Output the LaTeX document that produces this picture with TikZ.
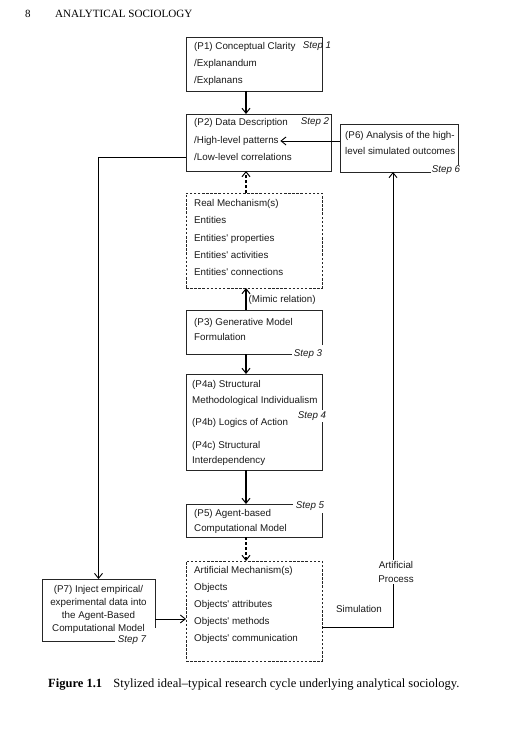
\documentclass[tikz,border=0pt]{standalone}
\usepackage{fontspec}
\setmainfont{Liberation Serif}
\newfontfamily\arial{Liberation Sans}
\usetikzlibrary{arrows.meta,calc}
\begin{document}
\begin{tikzpicture}[x=1pt,y=-1pt,
  nbox/.style={inner sep=0,outer sep=0,anchor=north west},
  box/.style={nbox,draw=black!85,line width=0.7pt},
  dbox/.style={box,dash pattern=on 2.5pt off 1.6pt},
  border/.style={draw=black!85,line width=0.7pt},
  txt/.style={anchor=base west,inner sep=0,font=\arial\fontsize{9.8}{11}\selectfont,text=black!90},
  ctxt/.style={txt,anchor=base},
  steplbl/.style={font=\arial\itshape\fontsize{9.8}{11}\selectfont,inner sep=1.5pt,text=black!90},
  wstep/.style={steplbl,fill=white},
  arr/.style={line width=1.1pt,-{Straight Barb[length=5pt,width=8pt,line width=1pt]}},
  darr/.style={arr,dash pattern=on 3pt off 2pt},
  conn/.style={line width=0.8pt,-{Straight Barb[length=5pt,width=8pt,line width=0.9pt]}}]
\useasboundingbox (0,0) rectangle (510,746);

% header
\node[anchor=base west,inner sep=0,font=\fontsize{11}{12}\selectfont] (pg) at (25,18) {8};
\node[anchor=base west,inner sep=0,font=\fontsize{11.1}{12}\selectfont] (hd) at (55,18) {ANALYTICAL SOCIOLOGY};

\coordinate (ax) at (246,0);
\coordinate (sx) at (393,0);

% boxes
\node[box,minimum width=136pt,minimum height=54pt] (p1) at (186,37) {};
\node[box,minimum width=145pt,minimum height=57pt] (p2) at (186,114) {};
\node[nbox,minimum width=118pt,minimum height=48pt] (p6) at (340,124) {};
\node[dbox,minimum width=136pt,minimum height=95pt] (real) at (186,193) {};
\node[nbox,minimum width=136pt,minimum height=44pt] (p3) at (186,310) {};
\node[box,minimum width=136pt,minimum height=96pt] (p4) at (186,374) {};
\node[nbox,minimum width=136pt,minimum height=33pt] (p5) at (186,504) {};
\node[dbox,minimum width=136pt,minimum height=100pt] (art) at (186,561) {};
\node[nbox,minimum width=113pt,minimum height=62pt] (p7) at (42,579) {};

% open borders
\draw[border] ($(p6.south west)+(91,0)$) -- (p6.south west) -- (p6.north west) -- (p6.north east) -- ($(p6.south east)+(0,-7)$);
\draw[border] ($(p3.south east)+(0,-9)$) -- (p3.north east) -- (p3.north west) -- (p3.south west) -- ($(p3.south west)+(106,0)$);
\draw[border] ($(p5.north west)+(107,0)$) -- (p5.north west) -- (p5.south west) -- (p5.south east) -- ($(p5.north east)+(0,9)$);
\draw[border] ($(p7.south west)+(73,0)$) -- (p7.south west) -- (p7.north west) -- (p7.north east) -- ($(p7.south east)+(0,-13)$);

% texts
\node[txt] (p1a) at (194,49.5) {(P1) Conceptual Clarity};
\node[txt] (p1b) at (194,66.5) {/Explanandum};
\node[txt] (p1c) at (194,83.5) {/Explanans};
\node[steplbl] (s1) at (317,46) {Step 1};

\node[txt] (p2a) at (194,125.5) {(P2) Data Description};
\node[txt,inner sep=1.5pt] (p2b) at (192.5,143.5) {/High-level patterns};
\node[txt] (p2c) at (194,160.5) {/Low-level correlations};
\node[steplbl] (s2) at (315,122) {Step 2};

\node[txt] (p6a) at (345,138.5) {(P6) Analysis of the high-};
\node[txt] (p6b) at (345,155) {level simulated outcomes};
\node[steplbl] (s6) at (446,170) {Step 6};

\node[txt] (r1) at (194,206.5) {Real Mechanism(s)};
\node[txt] (r2) at (194,223.5) {Entities};
\node[txt] (r3) at (194,241.5) {Entities' properties};
\node[txt] (r4) at (194,258.5) {Entities' activities};
\node[txt] (r5) at (194,275.5) {Entities' connections};

\node[txt] (p3a) at (194,325) {(P3) Generative Model};
\node[txt] (p3b) at (194,340) {Formulation};
\node[steplbl] (s3) at (308,354.5) {Step 3};

\node[txt] (p4a) at (192,387.5) {(P4a) Structural};
\node[txt] (p4b) at (192,403.5) {Methodological Individualism};
\node[txt] (p4c) at (192,425.5) {(P4b) Logics of Action};
\node[txt] (p4d) at (192,448.5) {(P4c) Structural};
\node[txt] (p4e) at (192,463.5) {Interdependency};
\node[wstep] (s4) at (312,416) {Step 4};

\node[txt] (p5a) at (194,516.5) {(P5) Agent-based};
\node[txt] (p5b) at (194,531.5) {Computational Model};
\node[steplbl] (s5) at (310,506) {Step 5};

\node[txt] (a1) at (194,573.5) {Artificial Mechanism(s)};
\node[txt] (a2) at (194,590.5) {Objects};
\node[txt] (a3) at (194,607.5) {Objects' attributes};
\node[txt] (a4) at (194,624.5) {Objects' methods};
\node[txt] (a5) at (194,641.5) {Objects' communication};

\node[ctxt] (p7a) at (98.5,592.5) {(P7) Inject empirical/};
\node[ctxt] (p7b) at (98.5,605.5) {experimental data into};
\node[ctxt] (p7c) at (98.5,618.5) {the Agent-Based};
\node[ctxt] (p7d) at (98.5,631.5) {Computational Model};
\node[steplbl] (s7) at (132,640) {Step 7};

% connectors
\draw[arr] (p1.south -| ax) -- (p2.north -| ax);
\draw[conn] (p6.west |- p2b.east) -- (p2b.east);
\draw[darr] (real.north -| ax) -- (p2.south -| ax);
\draw[arr] (p3.north -| ax) -- (real.south -| ax);
\node[txt] (mim) at (248.5,302.5) {(Mimic relation)};
\draw[arr] (p3.south -| ax) -- (p4.north -| ax);
\draw[arr] (p4.south -| ax) -- (p5.north -| ax);
\draw[darr] (p5.south -| ax) -- (art.north -| ax);
\draw[conn] (p2.west |- p2c) -| (p7.north);
\draw[conn] ($(p7.east |- a4)+(0,-3)$) -- ($(art.west |- a4)+(0,-3)$);
\draw[conn] ($(art.east |- a4)+(0,5)$) -| (p6.south -| sx);
\node[fill=white,inner sep=1pt,align=center,font=\arial\fontsize{9.8}{14}\selectfont,text=black!90] (ap) at (396,572) {Artificial\\Process};
\node[font=\arial\fontsize{9.8}{11}\selectfont,inner sep=0,text=black!90] (sim) at (359,609) {Simulation};

% caption
\node[anchor=base west,inner sep=0,font=\fontsize{12.5}{14}\selectfont] (cap) at (48,687) {\textbf{Figure 1.1}\hspace{0.9em}Stylized ideal--typical research cycle underlying analytical sociology.};
\end{tikzpicture}
\end{document}
